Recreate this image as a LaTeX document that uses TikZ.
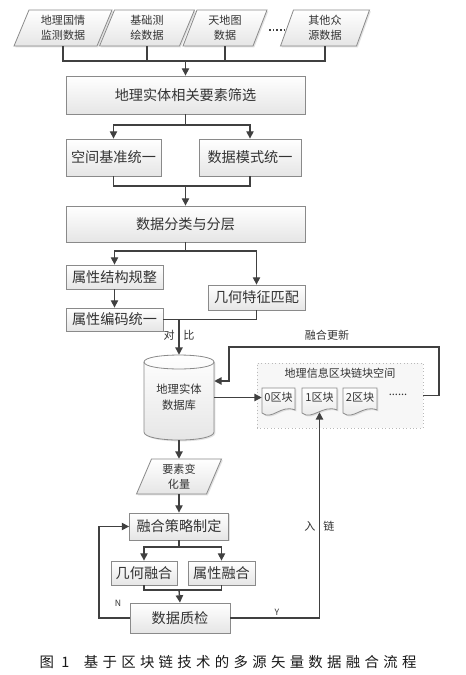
\documentclass[tikz,border=0pt]{standalone}
\usepackage{fontspec}
\setmainfont{Noto Sans CJK SC}
\newfontfamily\capfont[LetterSpace=30]{Noto Sans CJK SC}
\usetikzlibrary{shadows,arrows.meta,calc}
\definecolor{lnc}{HTML}{404040}
\definecolor{bdc}{HTML}{8A8A8A}
\definecolor{txc}{HTML}{333333}
\tikzset{
 lnk/.style={draw=lnc, line width=1pt},
 arr/.style={lnk, -{Triangle[length=5.5pt,width=5.5pt]}},
 boxfill/.style={draw=bdc, line width=0.6pt, top color=white, bottom color=gray!20,
   drop shadow={shadow xshift=1pt, shadow yshift=-1pt, fill=gray!45}},
 box/.style={boxfill, inner sep=0pt, text=txc, font=\fontsize{10.6pt}{12pt}\selectfont},
 sz/.style 2 args={minimum width={(#1)*0.75pt}, minimum height={(#2)*0.75pt}},
 small/.style={inner sep=0pt, text=txc, font=\fontsize{8.3pt}{11pt}\selectfont},
 tiny/.style={inner sep=0pt, text=txc, font=\fontsize{6.5pt}{7pt}\selectfont},
}
\newcommand\para[7]{%
 \path[boxfill] ({#2-#4/2-#6/2},{#3+#5/2}) -- ({#2+#4/2-#6/2},{#3+#5/2}) -- ({#2+#4/2+#6/2},{#3-#5/2}) -- ({#2-#4/2+#6/2},{#3-#5/2}) -- cycle;
 \node[small, align=center, sz={#4}{#5}] (#1) at (#2,#3) {#7};}
\newcommand\docblk[4]{%
 \path[boxfill] (#2,388) -- (#2,413) .. controls (#2+10,421) and (#3-14,404) .. (#3,410) -- (#3,388) -- cycle;
 \node[small, sz={#3-#2}{19}] (#1) at ({(#2+#3)/2},397.5) {#4};}
\begin{document}
\begin{tikzpicture}[x=0.75pt,y=-0.75pt]
\useasboundingbox[fill=white] (0,0) rectangle (466,675);
% top inputs
\para{p1}{63}{28}{83}{36}{15}{地理国情\\监测数据}
\para{p2}{147}{28}{80}{36}{15}{基础测\\绘数据}
\para{p3}{225}{28}{70}{36}{14}{天地图\\数据}
\para{p4}{325}{28}{76}{36}{13}{其他众\\源数据}
\draw[lnc, line width=1.1pt, dash pattern=on 1.1pt off 1.6pt] ($(p3.east)+(9,2)$) -- ($(p4.west)+(0,2)$);
% boxes
\node[box, sz={239}{38}] (b1) at (185.5,95) {地理实体相关要素筛选};
\node[box, sz={95}{37}] (b2) at (113.5,157.5) {空间基准统一};
\node[box, sz={102}{37}] (b3) at (250,157.5) {数据模式统一};
\node[box, sz={239}{36}] (b4) at (185.5,224) {数据分类与分层};
\node[box, sz={97}{24}] (b5) at (114.5,277) {属性结构规整};
\node[box, sz={97}{23}] (b6) at (114.5,319.5) {属性编码统一};
\node[box, sz={97}{25}] (b7) at (256.5,297.5) {几何特征匹配};
% cylinder
\path[boxfill] (144,362) -- (144,432) .. controls (144,442.7) and (214,442.7) .. (214,432) -- (214,362) .. controls (214,352.7) and (144,352.7) .. (144,362) -- cycle;
\draw[draw=bdc, line width=0.6pt] (144,362) .. controls (144,371.3) and (214,371.3) .. (214,362);
\node[small, align=center, sz={70}{85}, font=\fontsize{8.5pt}{12pt}\selectfont] (cyl) at (179,397.5) {地理实体\\数据库};
% block space group
\node[draw=gray!55, dotted, line width=0.6pt, fill=gray!6, sz={166}{65}, inner sep=0pt] (grp) at (340,395.5) {};
\node[small] (gt) at (340,373) {地理信息区块链块空间};
\docblk{k0}{262}{295}{0区块}
\docblk{k1}{302}{337}{1区块}
\docblk{k2}{343}{377}{2区块}
\node[small] (dots) at (398,395) {......};
% lower part
\para{p5}{179}{476.5}{70}{35}{15}{要素变\\化量}
\node[box, sz={99}{27}] (b8) at (179,526.5) {融合策略制定};
\node[box, sz={66}{24}] (b9) at (144,573) {几何融合};
\node[box, sz={67}{24}] (b10) at (221.5,573) {属性融合};
\node[box, sz={100}{30}] (b11) at (180,618) {数据质检};
% junctions
\coordinate (j1) at (185.5,61);
\coordinate (j2) at (185.5,125);
\coordinate (j3) at (185.5,186);
\coordinate (j4) at (185.5,251);
\coordinate (j5) at (179,319.5);
\coordinate (j6) at (179,547);
\coordinate (j7) at (179,590);
\coordinate (fb1) at (439,347);
\coordinate (fb2) at (229,381);
\coordinate (n1) at (99,526.5);
% connectors
\draw[lnk] (p1.south) |- (j1) -| (p4.south);
\draw[lnk] (p2.south) -- (p2.south |- j1);
\draw[lnk] (p3.south) -- (p3.south |- j1);
\draw[arr] (j1) -- (b1.north);
\draw[lnk] (b1.south) -- (j2);
\draw[arr] (j2) -| (b2.north);
\draw[arr] (j2) -| (b3.north);
\draw[lnk] (b2.south) |- (b3.south |- j3) -- (b3.south);
\draw[arr] (j3) -- (b4.north);
\draw[lnk] (b4.south) -- (j4);
\draw[arr] (j4) -| (b5.north);
\draw[arr] (j4) -| (b7.north);
\draw[arr] (b5.south) -- (b6.north);
\draw[lnk] (b6.east) -| (b7.south);
\draw[arr] (j5) -- (cyl.north);
\draw[arr] (cyl.east) -- (k0.west);
\draw[arr] (grp.east) -| (fb1) -| (fb2) -- (cyl.east |- fb2);
\draw[arr] (cyl.south) -- (p5.north);
\draw[arr] (p5.south) -- (b8.north);
\draw[lnk] (b8.south) -- (j6);
\draw[arr] (j6) -| (b9.north);
\draw[arr] (j6) -| (b10.north);
\draw[lnk] (b9.south) |- (b10.south |- j7) -- (b10.south);
\draw[arr] (j7) -- (b11.north);
\draw[arr] (b11.west) -| (n1) -- (b8.west);
\draw[arr] (b11.east) -| ($(k1.south)+(0,5)$);
% labels
\node[small] (l1) at (179,335) {对\hspace{6.5pt}比};
\node[small] (l2) at (327,335) {融合更新};
\node[small] (l3) at (319.5,526) {入\hspace{6pt}链};
\node[tiny] (ly) at (277,612) {Y};
\node[tiny] (lnn) at (118,603) {N};
\node[text=black!90, inner sep=0pt, font=\capfont\fontsize{10.8pt}{12pt}\selectfont] (cap) at (228,662) {图 1\hspace{1em}基于区块链技术的多源矢量数据融合流程};
\end{tikzpicture}
\end{document}
